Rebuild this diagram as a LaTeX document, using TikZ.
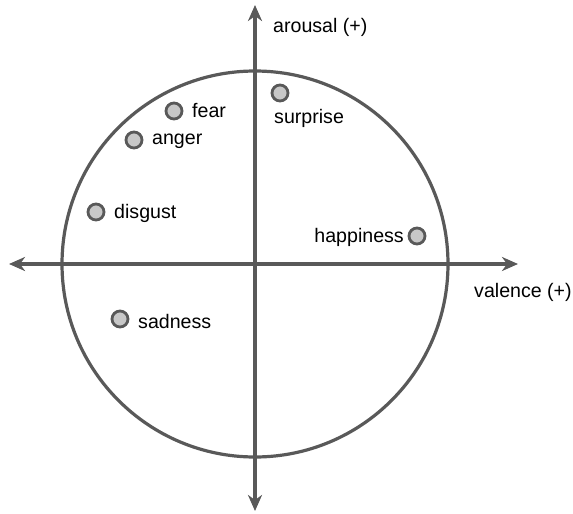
\documentclass[tikz,border=0pt]{standalone}
\usepackage{fontspec}
\setmainfont{Liberation Sans}
\usetikzlibrary{arrows.meta}
\definecolor{axisgray}{HTML}{595959}
\definecolor{dotfill}{HTML}{C8C8C8}
\tikzset{
  axisline/.style={draw=axisgray, line width=3.2pt, -{Stealth[length=16pt,width=14pt,inset=5pt]}},
  emo/.style={circle, draw=axisgray, fill=dotfill, line width=2.8pt, minimum size=16pt, inner sep=0pt},
  lbl/.style={font=\fontsize{19.6}{23}\selectfont, inner sep=0pt, text=black}
}
\begin{document}
\begin{tikzpicture}[x=1pt,y=-1pt]
\useasboundingbox (0,0) rectangle (573,514);
\coordinate (c) at (255,264);
\coordinate (top) at (255,5);
\coordinate (bot) at (255,511);
\coordinate (left) at (9,264);
\coordinate (right) at (518,264);
\draw[axisgray, line width=3.2pt] (c) circle[radius=193];
\draw[axisline] (c) -- (top);
\draw[axisline] (c) -- (bot);
\draw[axisline] (c) -- (left);
\draw[axisline] (c) -- (right);
\node[emo] (fear) at (174,111) {};
\node[emo] (surprise) at (280,93) {};
\node[emo] (anger) at (134,140) {};
\node[emo] (disgust) at (96,212) {};
\node[emo] (happiness) at (417,236) {};
\node[emo] (sadness) at (120,319) {};
\node[lbl, anchor=west] (tfear) at (192,111) {fear};
\node[lbl, anchor=west] (tsurprise) at (274,118) {surprise};
\node[lbl, anchor=west] (tanger) at (152,141) {anger};
\node[lbl, anchor=west] (tdisgust) at (114,213) {disgust};
\node[lbl, anchor=east] (thappiness) at (404,237) {happiness};
\node[lbl, anchor=west] (tsadness) at (138,321) {sadness};
\node[lbl, anchor=west] (tarousal) at (273,27) {arousal (+)};
\node[lbl, anchor=west] (tvalence) at (474,292) {valence (+)};
\end{tikzpicture}
\end{document}
